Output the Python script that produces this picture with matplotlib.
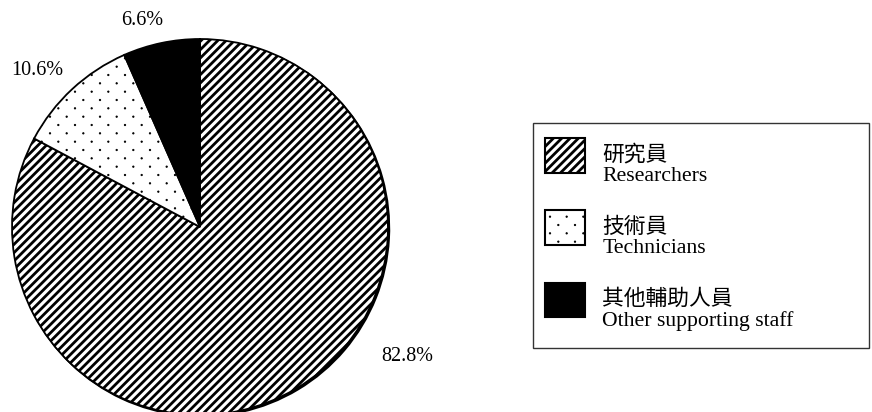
import numpy as np
import matplotlib
matplotlib.use('Agg')
import matplotlib.pyplot as plt
import matplotlib.hatch as mhatch
from matplotlib.path import Path
from matplotlib.patches import Rectangle
from matplotlib.legend_handler import HandlerPatch

plt.rcParams['font.family'] = ['Liberation Serif', 'Noto Sans CJK TC']
plt.rcParams['hatch.linewidth'] = 2.0

# data
names_zh = ['研究員', '技術員', '其他輔助人員']
names_en = ['Researchers', 'Technicians', 'Other supporting staff']
shares = [82.8, 10.6, 6.6]

fills = ['white', 'white', 'black']
hatches = ['////', '.', None]


# '.' hatch as a staggered dot grid (6 dots a row, 12 rows a tile) instead of
# matplotlib's square grid of small circles
class StaggeredDots(mhatch.HatchPatternBase):
    def __init__(self, hatch, density):
        n = hatch.count('.')
        self.cols = n * density
        self.rows = 2 * self.cols
        circ = Path.unit_circle()
        self.shape_vertices = circ.vertices
        self.shape_codes = circ.codes
        if n:
            n_shapes = (self.rows // 2 + 1) * (self.cols + 1) + (self.rows // 2) * self.cols
            self.num_vertices = n_shapes * len(circ.vertices)
        else:
            self.num_vertices = 0

    def set_vertices_and_codes(self, vertices, codes):
        dot = self.shape_vertices * 0.007
        vparts, cparts = [], []
        for r in range(self.rows + 1):
            if r % 2 == 0:
                xs = np.linspace(0, 1, self.cols + 1)
            else:
                xs = (np.arange(self.cols) + 0.5) / self.cols
            for x in xs:
                vparts.append(dot + [x, r / self.rows])
                cparts.append(self.shape_codes)
        np.concatenate(vparts, out=vertices)
        np.concatenate(cparts, out=codes)


mhatch._hatch_types = [t for t in mhatch._hatch_types
                       if t is not mhatch.SmallFilledCircles] + [StaggeredDots]

fig = plt.figure(figsize=(8.72, 4.12), dpi=100)
# square axes -> pie radius 188 px, centre at (200, 227) px from top-left
ax = fig.add_axes([12 / 872, -3 / 412, 376 / 872, 376 / 412])

wedges, texts = ax.pie(shares, startangle=90, counterclock=False, colors=fills,
                       labels=['%.1f%%' % s for s in shares], labeldistance=1.2,
                       wedgeprops=dict(edgecolor='black', linewidth=1.3),
                       textprops=dict(fontsize=14.5),
                       shadow={'ox': 0.005, 'oy': -0.005, 'shade': 1.0, 'alpha': 1.0})
for w, h in zip(wedges, hatches):
    if h:
        w.set_hatch(h)
    if h == '.':
        w.set_hatch_linewidth(0.6)
ax.set_xlim(-1, 1)
ax.set_ylim(-1, 1)

# label positions (data units, radius = 1)
label_pos = [(1.10, -0.69), (-0.867, 0.835), (-0.31, 1.096)]
for t, p in zip(texts, label_pos):
    t.set_position(p)
    t.set_ha('center')
    t.set_va('center')


def legend_box(legend, orig_handle, xdescent, ydescent, width, height, fontsize):
    return Rectangle((-xdescent, 0.0), width, 1.58 * fontsize)


leg = fig.legend(wedges, [z + '\n' + e for z, e in zip(names_zh, names_en)],
                 loc='upper left', bbox_to_anchor=(533 / 872, (412 - 133) / 412),
                 borderaxespad=0, fontsize=15.7,
                 handlelength=1.85, handleheight=1.6, handletextpad=0.78,
                 borderpad=0.55, labelspacing=1.43, frameon=False,
                 handler_map={w: HandlerPatch(patch_func=legend_box) for w in wedges})
for t in leg.get_texts():
    t.set_linespacing(1.1)
for lh, h in zip(leg.legend_handles, hatches):
    lh.set_linewidth(1.5)
    if h == '.':
        lh.set_hatch_linewidth(0.6)

# legend frame (wider than the legend content)
fig.add_artist(Rectangle((533 / 872, (412 - 348) / 412), 336 / 872, 225 / 412,
                         transform=fig.transFigure, fill=False,
                         edgecolor='#333333', linewidth=1.0))

fig.savefig('out.png', dpi=100)
